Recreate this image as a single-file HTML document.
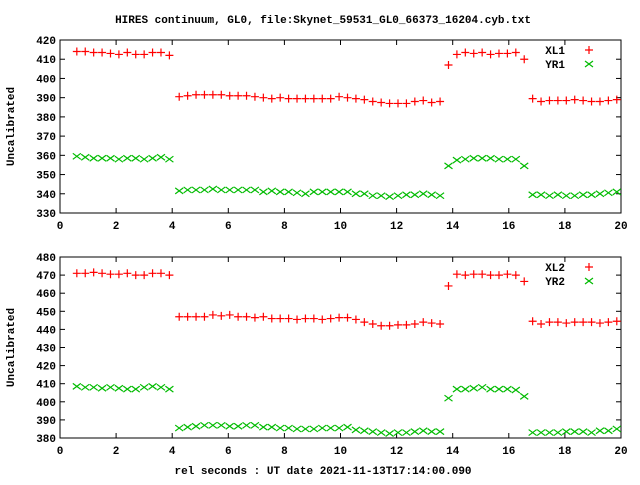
<!DOCTYPE html>
<html><head><meta charset="utf-8"><style>
body{margin:0;background:#fff}
svg text{font-family:"Liberation Mono",monospace;font-size:11px;font-weight:bold;fill:#000}
</style></head><body>
<svg id="c" width="640" height="480" xmlns="http://www.w3.org/2000/svg">
<text x="323" y="23" text-anchor="middle">HIRES continuum, GL0, file:Skynet_59531_GL0_66373_16204.cyb.txt</text>
<text x="323" y="474" text-anchor="middle">rel seconds : UT date 2021-11-13T17:14:00.090</text>
</svg>
<script>
const xTicks=[0,2,4,6,8,10,12,14,16,18,20];
const yTicks1=[330,340,350,360,370,380,390,400,410,420];
const yTicks2=[380,390,400,410,420,430,440,450,460,470,480];
const groupStarts=[0.6,4.25,13.85,16.85];
const step=0.3;
const xl1=[[414,414,413.5,413.5,413,412.5,413.5,412.5,412.5,413.5,413.5,412],
[390.5,391,391.5,391.5,391.5,391.5,391,391,391,390.5,390,389.5,390,389.5,389.5,389.5,389.5,389.5,389.5,390.5,390,389.5,389,388,387.5,387,387,387,388,388.5,387.5,388],
[407,412.5,413.5,413,413.5,412.5,413,413,413.5,410],
[389.5,388,388.5,388.5,388.5,389,388.5,388,388,388.5,389]];
const yr1=[[359.5,359,358.5,358.5,358.5,358,358.5,358.5,358,358.5,359,358],
[341.5,342,342,342,342.5,342,342,342,342,342,341,341.5,341,341,340.5,340,341,341,341,341,341,340,340,339,339,338.5,339,339.5,339.5,340,339.5,339],
[354.5,357.5,358,358.5,358.5,358.5,358,358,358,354.5],
[339.5,339.5,339,339.5,339,339,339.5,339.5,340,340.5,341]];
const xl2=[[471,471,471.5,471,470.5,470.5,471,470,470,471,471,470],
[447,447,447,447,448,447.5,448,447,447,446.5,447,446,446,446,445.5,446,446,445.5,446,446.5,446.5,445.5,444,443,442,442,442.5,442.5,443,444,443.5,443],
[464,470.5,470,470.5,470.5,470,470,470.5,470,466.5],
[444.5,443,444,444,443.5,444,444,444,443.5,444,444.5]];
const yr2=[[408.5,408,408,407.5,408,407.5,407,407,408,408.5,408,407],
[385.5,386,386.5,387,387,387,386.5,386.5,387,387,386,386,385.5,385.5,385,385,385,385.5,385.5,385.5,386,384.5,384,383.5,383,382.5,383,383,383.5,384,383.5,383.5],
[402,407,407,407.5,408,407,407,407,406.5,403],
[383,383,383,383,383.5,383.5,383.5,383,384,384,385]];
const svg=document.getElementById('c');
const NS='http://www.w3.org/2000/svg';
function mk(tag,attrs,parent){const e=document.createElementNS(NS,tag);for(const k in attrs)e.setAttribute(k,attrs[k]);(parent||svg).appendChild(e);return e;}
const L=60,R=621;
function panel(top,bot,yTicks,s1,s2,n1,n2,pname){
  const g=mk('g',{});
  
  
  const ymin=yTicks[0],ymax=yTicks[yTicks.length-1];
  const X=v=>L+(v-0)/(20-0)*(R-L);
  const Y=v=>bot-(v-ymin)/(ymax-ymin)*(bot-top);
  const fr=mk('rect',{x:L,y:top,width:R-L,height:bot-top,fill:'none',stroke:'#000','stroke-width':1},g);
  
  
  xTicks.forEach(t=>{const x=X(t);
    mk('line',{x1:x,y1:bot,x2:x,y2:bot-5,stroke:'#000'},g);
    mk('line',{x1:x,y1:top,x2:x,y2:top+5,stroke:'#000'},g);
    const tx=mk('text',{x:x,y:bot+16,'text-anchor':'middle'},g);tx.textContent=t;
    
    });
  yTicks.forEach(t=>{const y=Y(t);
    mk('line',{x1:L,y1:y,x2:L+5,y2:y,stroke:'#000'},g);
    mk('line',{x1:R,y1:y,x2:R-5,y2:y,stroke:'#000'},g);
    const tx=mk('text',{x:L-4,y:y+4,'text-anchor':'end'},g);tx.textContent=t;
    
    });
  const yt=mk('text',{x:14,y:(top+bot)/2,'text-anchor':'middle',transform:`rotate(-90 14 ${(top+bot)/2})`},g);
  yt.textContent='Uncalibrated';
  
  
  function plus(x,y,p){return mk('path',{d:`M${x-4} ${y}h8M${x} ${y-4}v8`,stroke:'#f00','stroke-width':1.2,fill:'none'},p);}
  function cross(x,y,p){return mk('path',{d:`M${x-4} ${y-3}l8 6M${x-4} ${y+3}l8 -6`,stroke:'#0b0','stroke-width':1.2,fill:'none'},p);}
  [[s1,plus,n1],[s2,cross,n2]].forEach(([s,f,n])=>{
    const sg=mk('g',{},g);
    
    
    s.forEach((grp,gi)=>grp.forEach((v,i)=>{const x=groupStarts[gi]+i*step;if(x>20)return;
      const p=f(X(x),Y(v),sg);
      
      }));
  });
  [[n1,plus,0],[n2,cross,1]].forEach(([n,f,i])=>{
    const lg=mk('g',{},g);
    
    
    const ly=top+10+i*14;
    const t=mk('text',{x:565,y:ly+4,'text-anchor':'end'},lg);t.textContent=n;
    f(589,ly,lg);
  });
}
panel(40,213,yTicks1,xl1,yr1,'XL1','YR1','top-panel');
panel(257,438,yTicks2,xl2,yr2,'XL2','YR2','bottom-panel');
</script>
</body></html>
